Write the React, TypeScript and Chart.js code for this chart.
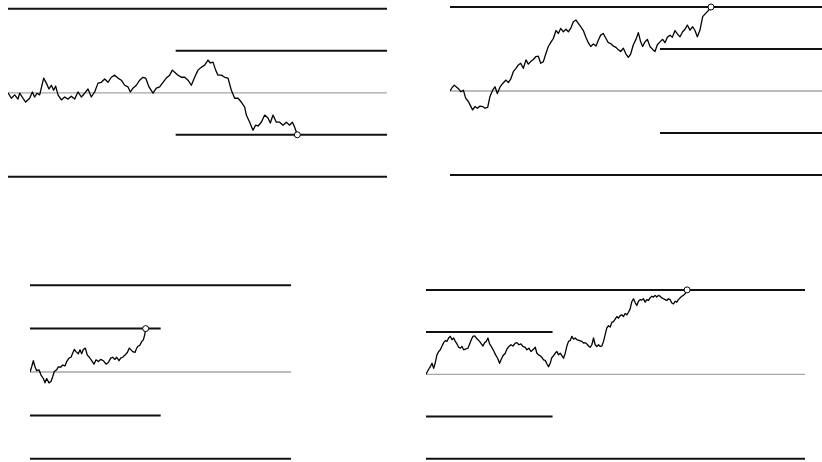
import React, { useEffect, useRef } from "react";
import { Chart, registerables } from "chart.js";

Chart.register(...registerables);

// ---------- DATA (time steps and walk values; boundaries at ±1 inner, ±2 outer) ----------
const p1Time = [0,10,20,30,35,45,53,65,73,80,87,95,107,115,123,130,137,143,150,160,170,180,190,200,210,220,230,240,250,260,270,280,290,300,310,320,330,340,350,360,367,375,385,395,405,413,423,435,445,455,465,475,485,493,500,510,520,530,540,550,560,570,580,590,600,607,615,623,630,640,650,660,670,680,690,700,710,715,725,735,743,750,760,770,780,787,795,805,815,825,835,845,853,860,868];
const p1Walk = [0,-0.13,-0.05,-0.15,-0.01,-0.13,-0.22,-0.13,0.02,-0.10,-0.01,-0.05,0.35,0.23,0.09,0.18,0.06,0.16,-0.05,-0.17,-0.10,-0.15,-0.08,-0.15,0.02,-0.10,-0.01,0.09,-0.10,0.02,0.23,0.25,0.33,0.25,0.37,0.42,0.35,0.30,0.18,0.14,0.02,0.11,0.18,0.30,0.37,0.35,0.14,-0.01,0.11,0.14,0.25,0.35,0.42,0.54,0.49,0.42,0.37,0.37,0.30,0.18,0.37,0.54,0.61,0.66,0.78,0.71,0.73,0.54,0.42,0.42,0.37,0.35,0.06,-0.13,-0.13,-0.22,-0.34,-0.53,-0.70,-0.89,-0.77,-0.79,-0.70,-0.53,-0.60,-0.72,-0.53,-0.70,-0.70,-0.77,-0.70,-0.77,-0.70,-0.82,-1.0];
const p1Horizon = 1137;
const p1Switch = 503;

const p2Time = [0,7,13,20,27,33,40,47,55,62,68,75,82,90,98,105,113,120,128,135,142,150,158,168,175,182,190,198,205,212,220,228,235,242,250,258,265,272,280,288,295,302,310,318,325,332,340,348,355,362,370,378,385,392,400,407,415,422,430,438,445,452,460,468,475,482,490,498,505,512,520,528,535,542,550,558,565,572,578,585,592,600,608,615,622,630,638,645,652,660,667,675,682,690,698,705,712,720,728,735,742,750,758,765,772,778,783];
const p2Walk = [0,0.09,0.14,0.09,0.04,-0.02,0.02,-0.17,-0.25,-0.36,-0.45,-0.37,-0.41,-0.36,-0.37,-0.41,-0.39,-0.13,0.02,0.10,-0.06,0.09,0.18,0.26,0.20,0.28,0.46,0.54,0.62,0.66,0.54,0.74,0.64,0.70,0.75,0.82,0.83,0.66,0.70,0.90,1.06,1.15,1.25,1.44,1.37,1.49,1.41,1.47,1.41,1.49,1.65,1.69,1.61,1.53,1.44,1.29,1.15,1.06,1.12,1.07,1.21,1.33,1.37,1.25,1.15,1.13,1.07,1.04,0.98,0.94,1.02,0.88,0.80,0.88,1.10,1.23,1.39,1.17,1.06,1.17,1.23,1.06,0.99,0.94,1.10,1.17,1.23,1.15,1.28,1.33,1.28,1.44,1.36,1.29,1.41,1.47,1.57,1.45,1.53,1.44,1.29,1.45,1.77,1.83,1.89,1.94,2.0];
const p2Horizon = 1116;
const p2Switch = 630;

const p3Time = [0,5,10,15,20,27,33,40,45,50,57,63,68,73,80,85,92,98,105,110,117,123,128,133,138,145,150,155,160,166,172,178,185,192,198,205,212,220,228,235,242,248,255,260,267,272,278,285,292,298,303,308,315,320,325,330,335,340,344,347];
const p3Walk = [0,0.12,0.26,0.12,0.03,0.05,-0.07,-0.15,-0.25,-0.15,-0.25,-0.22,-0.11,0.01,0.05,0.12,0.11,0.16,0.14,0.24,0.32,0.34,0.43,0.52,0.47,0.42,0.51,0.42,0.52,0.55,0.39,0.34,0.26,0.18,0.28,0.24,0.29,0.26,0.18,0.22,0.32,0.34,0.29,0.34,0.26,0.32,0.34,0.39,0.45,0.55,0.51,0.47,0.45,0.55,0.60,0.62,0.70,0.74,0.85,1.0];
const p3Horizon = 783;
const p3Switch = 392;

const p4Time = [0,8,13,18,23,28,33,38,43,48,53,58,63,68,73,78,83,88,93,98,103,108,113,120,126,131,136,141,146,151,156,161,166,171,176,181,186,191,196,203,209,215,221,225,231,238,243,249,255,261,268,273,279,285,291,298,303,309,315,321,328,333,338,343,348,353,358,363,368,373,378,383,388,393,398,403,408,413,418,423,428,433,438,443,448,453,461,468,473,478,483,488,493,498,503,508,513,518,523,528,533,538,543,548,553,558,563,568,573,578,583,588,593,598,603,608,613,618,623,628,633,638,643,648,653,658,663,668,673,678,683,688,693,698,703,708,713,718,723,728,733,738,743,748,753,758,763,768,773,778,784];
const p4Walk = [0,0.12,0.18,0.26,0.14,0.28,0.46,0.54,0.58,0.67,0.75,0.80,0.78,0.86,0.90,0.82,0.86,0.78,0.72,0.64,0.62,0.66,0.58,0.60,0.62,0.72,0.82,0.90,0.91,0.86,0.82,0.78,0.72,0.67,0.75,0.78,0.86,0.72,0.66,0.56,0.46,0.38,0.26,0.34,0.44,0.50,0.60,0.66,0.70,0.67,0.74,0.75,0.70,0.72,0.66,0.64,0.58,0.62,0.54,0.58,0.64,0.50,0.46,0.44,0.40,0.34,0.33,0.25,0.18,0.26,0.40,0.44,0.50,0.54,0.46,0.50,0.44,0.38,0.50,0.67,0.78,0.80,0.90,0.83,0.86,0.82,0.80,0.78,0.74,0.75,0.72,0.67,0.64,0.70,0.86,0.70,0.66,0.70,0.66,0.67,0.78,0.94,1.10,1.15,1.12,1.23,1.25,1.31,1.37,1.33,1.39,1.41,1.37,1.44,1.41,1.47,1.55,1.72,1.79,1.70,1.63,1.73,1.77,1.76,1.79,1.71,1.77,1.75,1.81,1.85,1.83,1.87,1.83,1.87,1.85,1.81,1.79,1.77,1.75,1.79,1.77,1.69,1.67,1.73,1.71,1.77,1.81,1.85,1.87,1.91,2.0];
const p4Horizon = 1138;
const p4Switch = 380;

const outerLevel = 2;
const innerLevel = 1;

// ---------- LAYOUT ----------
type Panel = {
  time: number[];
  walk: number[];
  horizon: number;
  switchAt: number;
  innerLate: boolean;
  left: number;
  width: number;
  centerY: number;
  unit: number;
};

const panels: Panel[] = [
  { time: p1Time, walk: p1Walk, horizon: p1Horizon, switchAt: p1Switch, innerLate: true, left: 8, width: 379, centerY: 92.8, unit: 42 },
  { time: p2Time, walk: p2Walk, horizon: p2Horizon, switchAt: p2Switch, innerLate: true, left: 450, width: 372, centerY: 91, unit: 42 },
  { time: p3Time, walk: p3Walk, horizon: p3Horizon, switchAt: p3Switch, innerLate: false, left: 30, width: 261, centerY: 372, unit: 43.4 },
  { time: p4Time, walk: p4Walk, horizon: p4Horizon, switchAt: p4Switch, innerLate: false, left: 426, width: 379, centerY: 374.3, unit: 42.2 },
];

function PanelChart({ p }: { p: Panel }) {
  const ref = useRef<HTMLCanvasElement | null>(null);
  const pad = 8;
  const top = Math.floor(p.centerY - outerLevel * p.unit - pad);
  const bottom = Math.ceil(p.centerY + outerLevel * p.unit + pad);
  const height = bottom - top;
  const yMax = (p.centerY - top) / p.unit;
  const yMin = (p.centerY - bottom) / p.unit;

  useEffect(() => {
    if (!ref.current) return;
    const n = p.walk.length;
    const walkData = p.time.map((t, i) => ({ x: t, y: p.walk[i] }));
    const innerFrom = p.innerLate ? p.switchAt : 0;
    const innerTo = p.innerLate ? p.horizon : p.switchAt;
    const hline = (y: number, x0: number, x1: number, color: string, w: number) => ({
      data: [{ x: x0, y }, { x: x1, y }],
      borderColor: color,
      borderWidth: w,
      pointRadius: 0,
      tension: 0,
      fill: false,
    });
    const chart = new Chart(ref.current, {
      type: "line",
      data: {
        datasets: [
          {
            data: walkData,
            borderColor: "#000",
            borderWidth: 1.3,
            borderJoinStyle: "round",
            tension: 0,
            fill: false,
            clip: false,
            pointRadius: (ctx: any) => (ctx.dataIndex === n - 1 ? 3 : 0),
            pointBackgroundColor: "#fff",
            pointBorderColor: "#000",
            pointBorderWidth: 1,
          } as any,
          hline(outerLevel, 0, p.horizon, "#111", 2),
          hline(-outerLevel, 0, p.horizon, "#111", 2),
          hline(0, 0, p.horizon, "#a6a6a6", 1.3),
          hline(innerLevel, innerFrom, innerTo, "#111", 2),
          hline(-innerLevel, innerFrom, innerTo, "#111", 2),
        ],
      },
      options: {
        animation: false,
        responsive: false,
        events: [],
        layout: { padding: 0, autoPadding: false },
        plugins: { legend: { display: false }, tooltip: { enabled: false } },
        scales: {
          x: { type: "linear", display: false, min: 0, max: p.horizon },
          y: { type: "linear", display: false, min: yMin, max: yMax },
        },
      },
    });
    return () => chart.destroy();
  }, []);

  return (
    <canvas
      ref={ref}
      width={p.width}
      height={height}
      style={{ position: "absolute", left: p.left, top, width: p.width, height }}
    />
  );
}

export default function App() {
  return (
    <div style={{ position: "absolute", left: 0, top: 0, width: 822, height: 462, background: "#fff", overflow: "hidden" }}>
      {panels.map((p, i) => (
        <PanelChart key={i} p={p} />
      ))}
    </div>
  );
}
